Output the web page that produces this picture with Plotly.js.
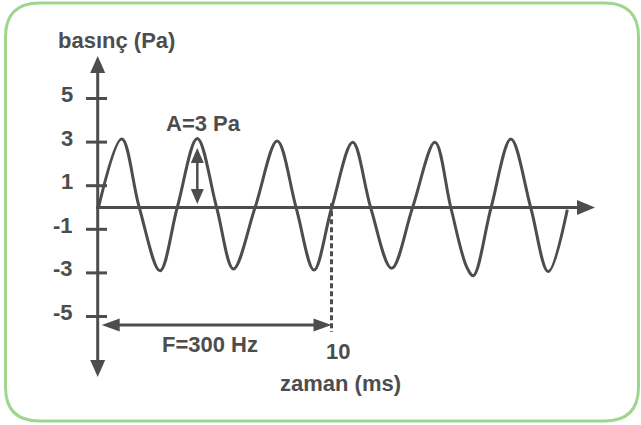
<!DOCTYPE html>
<html>
<head>
<meta charset="utf-8">
<script src="https://cdn.plot.ly/plotly-3.0.1.min.js"></script>
<style>html,body{margin:0;padding:0;background:#fff;}#chart{width:641px;height:425px;}</style>
</head>
<body>
<div id="chart"></div>
<script>
// ---- data ----
const timeMs = [0, 1.00, 1.75, 2.64, 3.38, 4.24, 5.07, 5.79, 6.72, 7.67, 8.48, 9.25, 10.01, 10.91, 11.68, 12.58, 13.48, 14.44, 15.12, 15.80, 16.09, 16.85, 17.70, 18.55, 19.30, 20.12];
const pressurePa = [0, 3.14, 0, -2.90, 0, 3.17, 0, -2.82, 0, 3.05, 0, -2.87, 0, 2.99, 0, -2.79, 0, 2.99, 0, -2.72, -3.13, 0, 3.14, 0, -2.94, -0.1];
const yTickVals = [5, 3, 1, -1, -3, -5];
const yTickText = ['5', '3', '1', '-1', '-3', '-5'];
const xTickVals = [10];
const xTickText = ['10'];
const amplitudePa = 3;
const periodMark = 10;
const yLabel = 'basınç (Pa)';
const xLabel = 'zaman (ms)';
const ampLabel = 'A=3 Pa';
const freqLabel = 'F=300 Hz';

// ---- layout geometry (pixel scale of the drawing) ----
const W = 641, H = 425;
const OX = 98.5, OY = 207.5, KX = 23.3, KY = 21.8;
const toT = px => (px - OX) / KX;
const toP = py => (OY - py) / KY;
const pxX = t => OX + t * KX;
const pxY = p => OY - p * KY;
const INK = '#4d4d4d';

// triangle head: tip at (tx,ty) in px, direction (dx,dy) unit, length, half width
function head(tx, ty, dx, dy, len, hw) {
  const bx = tx - dx * len, by = ty - dy * len;
  const nx = -dy, ny = dx;
  const pts = [[tx, ty], [bx + nx * hw, by + ny * hw], [bx - nx * hw, by - ny * hw]];
  const path = 'M' + pts.map(q => toT(q[0]).toFixed(4) + ',' + toP(q[1]).toFixed(4)).join(' L') + ' Z';
  return {type: 'path', xref: 'x', yref: 'y', path: path, fillcolor: INK, line: {width: 0}};
}
function seg(t0, p0, t1, p1, w, dash) {
  return {type: 'line', xref: 'x', yref: 'y', x0: t0, y0: p0, x1: t1, y1: p1,
          line: {color: INK, width: w, dash: dash || 'solid'}};
}

const shapes = [];
// rounded green frame (paper coords)
(function () {
  const x0 = 5.5, x1 = 638.5, y0 = 3, y1 = 421, r = 34;
  const X = v => (v / W).toFixed(5), Y = v => (1 - v / H).toFixed(5);
  const d = 'M' + X(x0 + r) + ',' + Y(y0) +
    ' L' + X(x1 - r) + ',' + Y(y0) + ' Q' + X(x1) + ',' + Y(y0) + ' ' + X(x1) + ',' + Y(y0 + r) +
    ' L' + X(x1) + ',' + Y(y1 - r) + ' Q' + X(x1) + ',' + Y(y1) + ' ' + X(x1 - r) + ',' + Y(y1) +
    ' L' + X(x0 + r) + ',' + Y(y1) + ' Q' + X(x0) + ',' + Y(y1) + ' ' + X(x0) + ',' + Y(y1 - r) +
    ' L' + X(x0) + ',' + Y(y0 + r) + ' Q' + X(x0) + ',' + Y(y0) + ' ' + X(x0 + r) + ',' + Y(y0) + ' Z';
  shapes.push({type: 'path', xref: 'paper', yref: 'paper', path: d, line: {color: '#9fd68e', width: 3}, layer: 'below'});
})();

// y axis with arrows at both ends
const yTopTip = 56, yBotTip = 377, xTip = 595;
shapes.push(seg(toT(97.7), toP(yTopTip + 14), toT(97.7), toP(yBotTip - 14), 3));
shapes.push(head(97.7, yTopTip, 0, -1, 17, 7.5));
shapes.push(head(97.7, yBotTip, 0, 1, 17, 7.5));
// x axis with arrow
shapes.push(seg(toT(96), 0, toT(xTip - 14), 0, 3));
shapes.push(head(xTip, OY, 1, 0, 18, 7.5));
// y tick marks
yTickVals.forEach(v => shapes.push(seg(toT(86), v, toT(107), v, 3)));
// dashed line at 10 ms
shapes.push(seg(periodMark, 0.2, periodMark, toP(332), 3, '5px,3px'));
// period double arrow
const fy = toP(325);
shapes.push(seg(toT(102 + 14), fy, pxX(periodMark) > 0 ? toT(pxX(periodMark) - 14) : 0, fy, 3));
shapes.push(head(101.7, pxY(fy), -1, 0, 18, 6.5));
shapes.push(head(pxX(periodMark), pxY(fy), 1, 0, 18, 6.5));
// amplitude double arrow (at second peak)
const ax = pxX(timeMs[5]);
const aTop = pxY(amplitudePa) + 6, aBot = pxY(0) - 3.5;
shapes.push(seg(timeMs[5], toP(aTop + 12), timeMs[5], toP(aBot - 12), 2.5));
shapes.push(head(ax, aTop, 0, -1, 15, 6.5));
shapes.push(head(ax, aBot, 0, 1, 15, 6.5));

const font = {family: 'Liberation Sans, Arial, sans-serif', size: 22, color: INK, weight: 'bold'};
const annotations = [];
yTickVals.forEach((v, i) => annotations.push({
  x: toT(75), y: v, xref: 'x', yref: 'y', text: yTickText[i], showarrow: false,
  xanchor: 'right', yanchor: 'middle', yshift: 4, font: font
}));
xTickVals.forEach((v, i) => annotations.push({
  x: v, y: toP(351.7), xref: 'x', yref: 'y', text: xTickText[i], showarrow: false,
  xanchor: 'center', yanchor: 'middle', xshift: 6, font: font
}));
annotations.push({x: toT(116.7), y: toP(40.3), xref: 'x', yref: 'y', text: yLabel, showarrow: false, xanchor: 'center', yanchor: 'middle', font: font});
annotations.push({x: toT(340), y: toP(383.5), xref: 'x', yref: 'y', text: xLabel, showarrow: false, xanchor: 'center', yanchor: 'middle', font: font});
annotations.push({x: toT(203), y: toP(123), xref: 'x', yref: 'y', text: ampLabel, showarrow: false, xanchor: 'center', yanchor: 'middle', font: font});
annotations.push({x: toT(210.3), y: toP(344), xref: 'x', yref: 'y', text: freqLabel, showarrow: false, xanchor: 'center', yanchor: 'middle', font: font});

const trace = {
  x: timeMs, y: pressurePa, type: 'scatter', mode: 'lines',
  line: {color: INK, width: 3, shape: 'spline', smoothing: 1},
  hoverinfo: 'skip', showlegend: false
};

const layout = {
  width: W, height: H,
  margin: {l: 0, r: 0, t: 0, b: 0, pad: 0},
  paper_bgcolor: '#ffffff', plot_bgcolor: '#ffffff',
  xaxis: {range: [toT(0), toT(W)], visible: false, fixedrange: true},
  yaxis: {range: [toP(H), toP(0)], visible: false, fixedrange: true},
  shapes: shapes, annotations: annotations, showlegend: false
};

Plotly.newPlot('chart', [trace], layout, {staticPlot: true, displayModeBar: false});
</script>
</body>
</html>
